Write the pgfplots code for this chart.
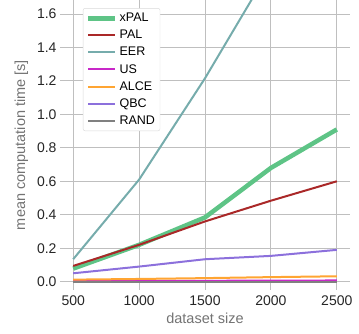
\documentclass[border=0pt]{standalone}
\usepackage{pgfplots}
\pgfplotsset{compat=1.18}
\usepackage{fontspec}
\setmainfont{Liberation Sans}
\definecolor{cxpal}{RGB}{94,196,134}
\definecolor{cpal}{RGB}{170,40,40}
\definecolor{ceer}{RGB}{118,172,172}
\definecolor{cus}{RGB}{200,40,200}
\definecolor{calce}{RGB}{255,165,50}
\definecolor{cqbc}{RGB}{140,112,220}
\definecolor{crand}{RGB}{128,128,128}
\begin{document}
\begin{tikzpicture}
\useasboundingbox (-60pt,-43pt) rectangle (299pt,290pt);
\begin{axis}[
  scale only axis, width=290pt, height=290pt,
  xmin=400, xmax=2600, ymin=-0.05, ymax=1.684,
  xtick={500,1000,1500,2000,2500},
  ytick={0,0.2,0.4,0.6,0.8,1.0,1.2,1.4,1.6},
  yticklabel style={/pgf/number format/.cd, fixed, fixed zerofill, precision=1},
  /pgf/number format/assume math mode=true,
  scaled y ticks=false,
  xticklabel style={/pgf/number format/1000 sep={}, yshift=-2pt},
  ticklabel style={font=\fontsize{14}{16}\selectfont, text=black!85},
  xlabel={dataset size}, ylabel={mean computation time [s]},
  label style={font=\fontsize{14.5}{16}\selectfont, text=black!55},
  xlabel style={yshift=-1pt},
  ylabel style={yshift=2pt},
  axis line style={draw=none},
  major tick length=0pt,
  grid=major, grid style={black!25, line width=0.9pt},
  legend style={at={(0.079,0.972)}, anchor=north west, font=\fontsize{12.5}{14}\selectfont,
    draw=black!15, fill=white, rounded corners=2pt,
    row sep=2.9pt, inner sep=3pt},
  legend image code/.code={\draw[#1] (0pt,0pt) -- (27pt,0pt);},
  legend cell align=left,
]
\addplot[cxpal, line width=4.5pt] coordinates {(500,0.078) (1000,0.22) (1500,0.384) (2000,0.68) (2500,0.91)};
\addlegendentry{xPAL}
\addplot[cpal, line width=2pt] coordinates {(500,0.094) (1000,0.22) (1500,0.36) (2000,0.484) (2500,0.60)};
\addlegendentry{PAL}
\addplot[ceer, line width=2pt] coordinates {(500,0.134) (1000,0.61) (1500,1.216) (2000,1.88) (2500,2.6)};
\addlegendentry{EER}
\addplot[cus, line width=2pt] coordinates {(500,0.004) (1000,0.004) (1500,0.005) (2000,0.006) (2500,0.007)};
\addlegendentry{US}
\addplot[calce, line width=2pt] coordinates {(500,0.012) (1000,0.016) (1500,0.021) (2000,0.027) (2500,0.032)};
\addlegendentry{ALCE}
\addplot[cqbc, line width=2pt] coordinates {(500,0.05) (1000,0.09) (1500,0.134) (2000,0.154) (2500,0.19)};
\addlegendentry{QBC}
\addplot[crand, line width=2pt] coordinates {(500,0.0) (1000,0.0) (1500,0.0) (2000,0.0) (2500,0.0)};
\addlegendentry{RAND}
\end{axis}
\end{tikzpicture}
\end{document}
